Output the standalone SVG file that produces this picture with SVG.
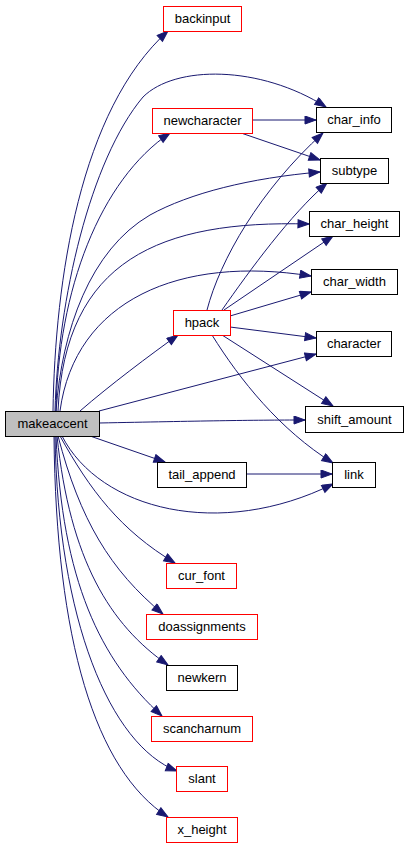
<svg xmlns="http://www.w3.org/2000/svg" width="408" height="848" viewBox="0 0 408 848">
<style>
.n rect{fill:#fff;stroke-width:1}
.r rect{stroke:#ff0000}
.b rect{stroke:#000}
.n text{font-family:"Liberation Sans",Arial,sans-serif;font-size:13px;text-anchor:middle;fill:#000}
#edges path{fill:none;stroke:#191970;stroke-width:1;marker-end:url(#ah)}
</style>
<defs>
<marker id="ah" markerWidth="13" markerHeight="10" refX="12" refY="4.5" orient="auto" markerUnits="userSpaceOnUse">
<path d="M1,0.5 L12,4.5 L1,8.5 z" fill="#191970" stroke="#191970"/>
</marker>
</defs>
<rect width="408" height="848" fill="#fff"/>
<g id="edges">
<path d="M53,411 C55,280 80,110 168,31"/>
<path d="M55,411 C58,300 90,160 143,97 C175,65 260,65 326,107"/>
<path d="M56,411 C58,290 100,180 170,133"/>
<path d="M56,411 C62,330 90,250 150,215 C190,193 250,178 320,172"/>
<path d="M58,411 C65,260 160,220 309,224"/>
<path d="M60,411 C75,300 180,255 311,276"/>
<path d="M80,411 C110,385 150,355 178,335"/>
<path d="M99,411 L316,354"/>
<path d="M99,423 C200,421 250,420 305,420"/>
<path d="M90,436 L165,462"/>
<path d="M62,436 C100,510 220,540 333,484"/>
<path d="M60,436 C90,490 120,530 175,563"/>
<path d="M58,436 C80,520 110,570 163,614"/>
<path d="M57,436 C70,560 110,625 168,665"/>
<path d="M56,436 C62,580 100,660 162,716"/>
<path d="M55,436 C58,620 110,745 177,771"/>
<path d="M54,436 C56,640 95,770 168,817"/>
<path d="M252,120 L316,120"/>
<path d="M241,133 L320,160"/>
<path d="M207,310 C220,260 260,190 323,133"/>
<path d="M222,310 C250,270 290,215 327,183"/>
<path d="M224,310 L333,236"/>
<path d="M230,316 L311,292"/>
<path d="M230,327 L316,338"/>
<path d="M222,335 L333,406"/>
<path d="M212,335 C240,380 280,430 333,463"/>
<path d="M246,474 L332,474"/>
</g>
<g id="backinput" class="n r"><rect x="163.5" y="6.5" width="78" height="25"/><text x="202.5" y="23">backinput</text></g>
<g id="newcharacter" class="n r"><rect x="152.5" y="108.5" width="100" height="25"/><text x="202.5" y="125">newcharacter</text></g>
<g id="char_info" class="n b"><rect x="316.5" y="107.5" width="75" height="25"/><text x="354" y="124">char_info</text></g>
<g id="subtype" class="n b"><rect x="320.5" y="158.5" width="68" height="25"/><text x="354.5" y="175">subtype</text></g>
<g id="char_height" class="n b"><rect x="309.5" y="211.5" width="90" height="25"/><text x="354.5" y="228">char_height</text></g>
<g id="char_width" class="n b"><rect x="311.5" y="269.5" width="86" height="25"/><text x="354.5" y="286">char_width</text></g>
<g id="hpack" class="n r"><rect x="173.5" y="310.5" width="57" height="25"/><text x="202" y="327">hpack</text></g>
<g id="character" class="n b"><rect x="316.5" y="331.5" width="75" height="25"/><text x="354" y="348">character</text></g>
<g id="makeaccent" class="n b"><rect x="5.5" y="411.5" width="94" height="25" style="fill:#bfbfbf"/><text x="52.5" y="428">makeaccent</text></g>
<g id="shift_amount" class="n b"><rect x="305.5" y="406.5" width="98" height="26"/><text x="354.5" y="423.5">shift_amount</text></g>
<g id="tail_append" class="n b"><rect x="157.5" y="462.5" width="89" height="25"/><text x="202" y="479">tail_append</text></g>
<g id="link" class="n b"><rect x="332.5" y="462.5" width="43" height="25"/><text x="354" y="479">link</text></g>
<g id="cur_font" class="n r"><rect x="166.5" y="563.5" width="70" height="25"/><text x="201.5" y="580">cur_font</text></g>
<g id="doassignments" class="n r"><rect x="146.5" y="614.5" width="111" height="25"/><text x="202" y="631">doassignments</text></g>
<g id="newkern" class="n b"><rect x="166.5" y="665.5" width="71" height="25"/><text x="202" y="682">newkern</text></g>
<g id="scancharnum" class="n r"><rect x="151.5" y="716.5" width="101" height="25"/><text x="202" y="733">scancharnum</text></g>
<g id="slant" class="n r"><rect x="176.5" y="766.5" width="51" height="25"/><text x="202" y="783">slant</text></g>
<g id="x_height" class="n r"><rect x="166.5" y="817.5" width="71" height="25"/><text x="202" y="834">x_height</text></g>
</svg>
